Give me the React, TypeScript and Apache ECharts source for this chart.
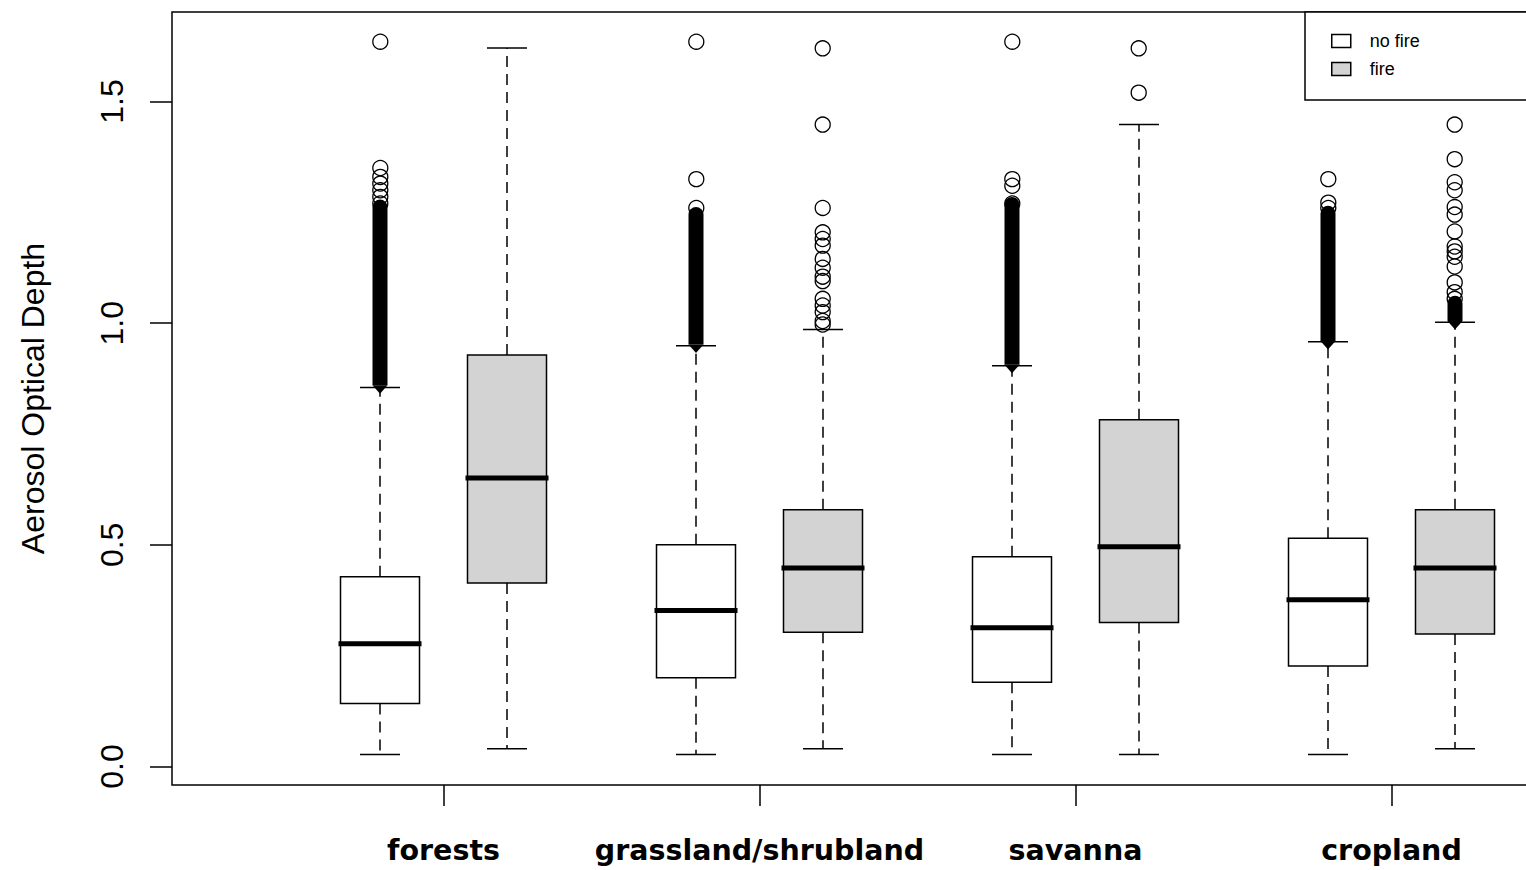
import React, { useEffect, useRef } from "react";
import * as echarts from "echarts";

// ---- data ----
const categories = ["forests", "grassland/shrubland", "savanna", "cropland"];
const groupPositions = [1, 2, 3, 4];
const yTicks = [0, 0.5, 1.0, 1.5];

// [min whisker, Q1, median, Q3, max whisker]
const noFireStats = [
  [0.027, 0.142, 0.277, 0.428, 0.855],
  [0.027, 0.2, 0.352, 0.5, 0.949],
  [0.027, 0.19, 0.313, 0.473, 0.904],
  [0.027, 0.227, 0.376, 0.515, 0.958],
];
const fireStats = [
  [0.04, 0.414, 0.651, 0.928, 1.621],
  [0.04, 0.303, 0.448, 0.579, 0.986],
  [0.027, 0.325, 0.496, 0.782, 1.448],
  [0.04, 0.299, 0.448, 0.579, 1.002],
];

// individual outliers (open circles)
const noFireOutliers = [
  [1.27, 1.285, 1.3, 1.315, 1.33, 1.35, 1.635],
  [1.26, 1.325, 1.635],
  [1.27, 1.31, 1.325, 1.635],
  [1.26, 1.272, 1.325],
];
const fireOutliers = [
  [],
  [0.997, 1.005, 1.025, 1.04, 1.055, 1.095, 1.105, 1.125, 1.145, 1.175, 1.19, 1.205, 1.26, 1.448, 1.62],
  [1.52, 1.62],
  [1.055, 1.07, 1.092, 1.128, 1.15, 1.162, 1.173, 1.207, 1.245, 1.262, 1.3, 1.318, 1.37, 1.448],
];
// ranges where outliers overlap into a solid column [lowest, highest]
const noFireDense = [
  [0.86, 1.262],
  [0.952, 1.245],
  [0.906, 1.268],
  [0.96, 1.248],
];
const fireDense = [null, null, null, [1.005, 1.045]];

const seriesNames = ["no fire", "fire"];
const fills = ["#ffffff", "#d3d3d3"];

export default function App() {
  const ref = useRef<HTMLDivElement>(null);

  useEffect(() => {
    if (!ref.current) return;
    const chart = echarts.init(ref.current, null, { renderer: "svg" });
    const offsets = [-0.2, 0.2];
    const statSets = [noFireStats, fireStats];
    const outlierSets = [noFireOutliers, fireOutliers];
    const denseSets = [noFireDense, fireDense];

    const boxRender = (fill: string) => (params: any, api: any) => {
      const x = api.value(0);
      const pMin = api.coord([x, api.value(1)]);
      const pQ1 = api.coord([x, api.value(2)]);
      const pMed = api.coord([x, api.value(3)]);
      const pQ3 = api.coord([x, api.value(4)]);
      const pMax = api.coord([x, api.value(5)]);
      const cx = Math.round(pMed[0]);
      const halfBox = 39.5;
      const halfCap = 20;
      const lineStyle = { stroke: "#000", lineWidth: 1.5, fill: null };
      return {
        type: "group",
        children: [
          {
            type: "line",
            shape: { x1: cx, y1: pQ3[1], x2: cx, y2: pMax[1] },
            style: { ...lineStyle, lineDash: [11, 7] },
          },
          {
            type: "line",
            shape: { x1: cx, y1: pQ1[1], x2: cx, y2: pMin[1] },
            style: { ...lineStyle, lineDash: [11, 7] },
          },
          {
            type: "line",
            shape: { x1: cx - halfCap, y1: pMax[1], x2: cx + halfCap, y2: pMax[1] },
            style: lineStyle,
          },
          {
            type: "line",
            shape: { x1: cx - halfCap, y1: pMin[1], x2: cx + halfCap, y2: pMin[1] },
            style: lineStyle,
          },
          {
            type: "rect",
            shape: { x: cx - halfBox, y: pQ3[1], width: halfBox * 2, height: pQ1[1] - pQ3[1] },
            style: { fill, stroke: "#000", lineWidth: 1.5 },
          },
          {
            type: "line",
            shape: { x1: cx - halfBox - 2, y1: pMed[1], x2: cx + halfBox + 2, y2: pMed[1] },
            style: { stroke: "#000", lineWidth: 5 },
          },
        ],
      };
    };

    const denseRender = (params: any, api: any) => {
      const x = api.value(0);
      const pLo = api.coord([x, api.value(1)]);
      const pHi = api.coord([x, api.value(2)]);
      const cx = Math.round(pLo[0]);
      const r = 7.5;
      return {
        type: "group",
        children: [
          {
            type: "rect",
            shape: { x: cx - r, y: pHi[1] - r, width: 2 * r, height: pLo[1] - pHi[1] + r, r: [r, r, 0, 0] },
            style: { fill: "#000" },
          },
          {
            type: "polygon",
            shape: { points: [[cx - r, pLo[1]], [cx + r, pLo[1]], [cx, pLo[1] + r + 1]] },
            style: { fill: "#000" },
          },
        ],
      };
    };

    const series: any[] = [];
    [0, 1].forEach((k) => {
      series.push({
        name: seriesNames[k],
        type: "custom",
        renderItem: boxRender(fills[k]),
        itemStyle: { color: fills[k], borderColor: "#000", borderWidth: 1.5 },
        encode: { x: 0, y: [1, 2, 3, 4, 5] },
        data: statSets[k].map((s, i) => [groupPositions[i] + offsets[k], ...s]),
        z: 2,
      });
    });
    [0, 1].forEach((k) => {
      const d: number[][] = [];
      denseSets[k].forEach((r, i) => {
        if (r) d.push([groupPositions[i] + offsets[k], r[0], r[1]]);
      });
      series.push({
        name: seriesNames[k] + " dense outliers",
        type: "custom",
        renderItem: denseRender,
        encode: { x: 0, y: [1, 2] },
        data: d,
        z: 3,
      });
      const pts: number[][] = [];
      outlierSets[k].forEach((vals, i) => {
        vals.forEach((v) => pts.push([groupPositions[i] + offsets[k], v]));
      });
      series.push({
        name: seriesNames[k] + " outliers",
        type: "scatter",
        symbol: "circle",
        symbolSize: 15,
        itemStyle: { color: "rgba(0,0,0,0)", borderColor: "#000", borderWidth: 1.3, opacity: 1 },
        data: pts,
        z: 4,
      });
    });

    chart.setOption({
      animation: false,
      backgroundColor: "#ffffff",
      grid: {
        left: 172,
        top: 12,
        bottom: 85,
        right: 0,
        show: true,
        borderColor: "#000",
        borderWidth: 1.5,
        backgroundColor: "rgba(0,0,0,0)",
      },
      xAxis: {
        type: "value",
        min: 0.1408,
        max: 4.6598,
        axisLine: { show: false, onZero: false },
        splitLine: { show: false },
        axisTick: {
          show: true,
          length: 21,
          customValues: groupPositions,
          lineStyle: { color: "#000", width: 1.5 },
        },
        axisLabel: {
          show: true,
          customValues: groupPositions,
          formatter: (v: number) => categories[Math.round(v) - 1] ?? "",
          margin: 51,
          fontFamily: "DejaVu Sans",
          fontWeight: "bold",
          fontSize: 28.5,
          color: "#000",
        },
      },
      yAxis: {
        type: "value",
        min: -0.0417,
        max: 1.702,
        name: "Aerosol Optical Depth",
        nameLocation: "middle",
        nameRotate: 90,
        nameGap: 123,
        nameTextStyle: { fontFamily: "Liberation Sans", fontSize: 32, color: "#000" },
        axisLine: { show: false, onZero: false },
        splitLine: { show: false },
        axisTick: {
          show: true,
          length: 22,
          customValues: yTicks,
          lineStyle: { color: "#000", width: 1.5 },
        },
        axisLabel: {
          show: true,
          customValues: yTicks,
          rotate: 90,
          margin: 44,
          formatter: (v: number) => v.toFixed(1),
          fontFamily: "Liberation Sans",
          fontSize: 32,
          color: "#000",
        },
      },
      legend: {
        show: true,
        orient: "vertical",
        left: 1326,
        top: 27,
        itemWidth: 19,
        itemHeight: 13,
        itemGap: 10,
        selectedMode: false,
        textStyle: { fontFamily: "Liberation Sans", fontSize: 18, color: "#000", padding: [0, 0, 0, 14] },
        data: [
          { name: "no fire", icon: "rect", itemStyle: { color: "#ffffff", borderColor: "#000", borderWidth: 1.5 } },
          { name: "fire", icon: "rect", itemStyle: { color: "#d3d3d3", borderColor: "#000", borderWidth: 1.5 } },
        ],
      },
      graphic: [
        {
          type: "rect",
          shape: { x: 1305, y: 12, width: 400, height: 88 },
          style: { fill: "#fff", stroke: "#000", lineWidth: 1.5 },
          z: 0,
          silent: true,
        },
      ],
      series,
    });

    return () => chart.dispose();
  }, []);

  return (
    <div style={{ position: "fixed", left: 0, top: 0, width: 1526, height: 870, overflow: "hidden", background: "#fff" }}>
      <div ref={ref} style={{ position: "absolute", left: 0, top: 0, width: 1600, height: 870 }} />
    </div>
  );
}
